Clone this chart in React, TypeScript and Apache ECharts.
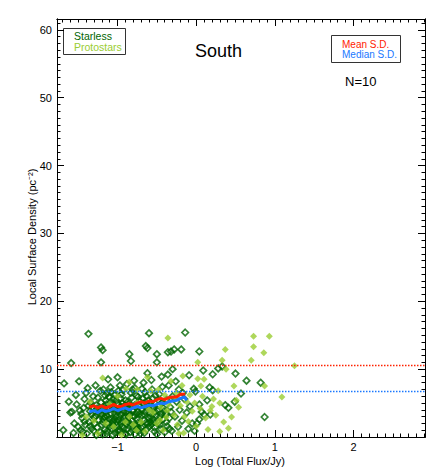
import React, { useEffect, useRef } from "react";
import * as echarts from "echarts";

const X_MIN = -1.77;
const X_MAX = 2.91;
const Y_MIN = 0;
const Y_MAX = 61.6;
const xMajorTicks = [-1, 0, 1, 2];
const yMajorTicks = [10, 20, 30, 40, 50, 60];
const meanLevel = 10.55;
const medianLevel = 6.7;

const starless: [number, number][] = [
  [-1.69, 1.0], [-1.68, 7.9], [-1.6, 3.6], [-1.62, 5.2],
  [-1.59, 10.9], [-1.58, 3.7], [-1.55, 2.0], [-1.52, 4.8], [-1.5, 1.5], [-1.53, 6.2], [-1.56, 0.6],
  [-1.49, 8.2], [-1.47, 1.0], [-1.45, 2.8], [-1.43, 4.3], [-1.42, 5.6], [-1.41, 1.8], [-1.46, 3.4], [-1.44, 0.8], [-1.4, 6.5],
  [-1.37, 15.2], [-1.38, 7.2], [-1.36, 2.2], [-1.35, 3.8], [-1.34, 5.0], [-1.33, 1.2], [-1.32, 4.4], [-1.31, 6.0], [-1.39, 0.5], [-1.3, 2.9], [-1.35, 1.6],
  [-1.21, 13.2], [-1.19, 12.8], [-1.21, 11.0], [-1.28, 3.1], [-1.27, 4.7], [-1.26, 1.4], [-1.25, 5.8], [-1.24, 2.5], [-1.23, 3.9], [-1.22, 0.7], [-1.22, 6.8], [-1.29, 2.0], [-1.26, 4.2], [-1.2, 3.3], [-1.2, 1.8], [-1.28, 7.6],
  [-1.12, 8.5], [-1.18, 2.6], [-1.17, 4.5], [-1.16, 1.1], [-1.15, 5.4], [-1.14, 3.2], [-1.13, 6.4], [-1.12, 2.0], [-1.11, 4.0], [-1.19, 0.4], [-1.1, 1.5], [-1.18, 7.0], [-1.15, 3.7], [-1.13, 0.9], [-1.11, 5.9], [-1.16, 2.9], [-1.14, 4.8],
  [-1.0, 8.8], [-1.09, 3.5], [-1.08, 1.2], [-1.07, 5.1], [-1.06, 2.3], [-1.05, 4.3], [-1.04, 6.2], [-1.03, 0.6], [-1.02, 3.0], [-1.01, 1.8], [-1.09, 7.3], [-1.07, 2.7], [-1.05, 5.6], [-1.03, 4.0], [-1.01, 2.2], [-1.06, 0.3], [-1.04, 3.6], [-1.0, 4.9], [-1.08, 6.6],
  [-0.99, 2.5], [-0.98, 4.1], [-0.97, 1.0], [-0.96, 5.7], [-0.95, 3.3], [-0.94, 1.6], [-0.93, 6.9], [-0.92, 2.8], [-0.91, 4.6], [-0.9, 0.5], [-0.99, 3.8], [-0.97, 7.6], [-0.96, 2.0], [-0.94, 5.0], [-0.92, 1.3], [-0.91, 3.1], [-0.98, 0.8], [-0.95, 6.3], [-0.93, 4.4],
  [-0.85, 12.2], [-0.83, 11.2], [-0.89, 3.6], [-0.88, 1.9], [-0.87, 5.2], [-0.86, 2.9], [-0.85, 4.2], [-0.84, 0.7], [-0.83, 6.5], [-0.82, 2.4], [-0.81, 3.9], [-0.8, 1.4], [-0.88, 7.8], [-0.86, 4.8], [-0.84, 3.3], [-0.82, 5.8], [-0.81, 1.0], [-0.87, 2.2], [-0.89, 0.4],
  [-0.79, 3.0], [-0.78, 4.7], [-0.77, 1.7], [-0.76, 6.1], [-0.75, 2.6], [-0.74, 3.8], [-0.73, 0.9], [-0.72, 5.3], [-0.71, 2.0], [-0.7, 4.1], [-0.78, 7.2], [-0.76, 1.2], [-0.74, 5.9], [-0.72, 3.4], [-0.79, 8.3], [-0.71, 0.5], [-0.77, 4.4],
  [-0.64, 13.4], [-0.62, 13.1], [-0.62, 9.4], [-0.69, 3.2], [-0.68, 1.6], [-0.67, 4.9], [-0.66, 2.5], [-0.65, 6.6], [-0.64, 3.7], [-0.63, 1.1], [-0.61, 5.4], [-0.6, 2.8], [-0.69, 7.1], [-0.66, 0.6], [-0.63, 4.3], [-0.61, 2.0], [-0.67, 8.0],
  [-0.6, 15.3], [-0.5, 12.2], [-0.5, 11.0], [-0.59, 3.5], [-0.58, 5.1], [-0.57, 1.8], [-0.56, 7.0], [-0.55, 2.7], [-0.54, 4.2], [-0.53, 0.8], [-0.52, 6.1], [-0.51, 3.1], [-0.58, 2.2], [-0.55, 5.7], [-0.53, 1.4], [-0.57, 8.4],
  [-0.49, 4.0], [-0.48, 2.1], [-0.47, 6.3], [-0.46, 3.0], [-0.45, 1.2], [-0.44, 5.0], [-0.43, 7.4], [-0.42, 2.6], [-0.41, 3.8], [-0.4, 0.7], [-0.47, 4.6], [-0.44, 8.9],
  [-0.36, 12.5], [-0.32, 12.6], [-0.3, 10.0], [-0.39, 3.4], [-0.38, 5.5], [-0.37, 1.6], [-0.35, 7.6], [-0.34, 2.8], [-0.33, 4.4], [-0.31, 0.9], [-0.3, 6.0], [-0.36, 9.2],
  [-0.28, 12.9], [-0.19, 12.9], [-0.27, 3.0], [-0.25, 5.2], [-0.23, 1.5], [-0.22, 7.0], [-0.21, 4.0], [-0.26, 8.2],
  [-0.14, 15.4], [-0.09, 9.1], [-0.18, 2.4], [-0.15, 5.6], [-0.12, 3.6], [-0.1, 1.2], [-0.17, 6.5],
  [-0.08, 4.5], [-0.05, 2.0], [-0.03, 7.1], [-0.01, 6.7], [-0.02, 0.9],
  [0.04, 12.6], [0.09, 9.8], [0.04, 4.8], [0.07, 3.7], [0.01, 2.0], [0.04, 2.6], [0.1, 3.3],
  [0.14, 5.4], [0.18, 3.3], [0.17, 7.3], [0.21, 6.9], [0.21, 9.25], [0.28, 10.1], [0.33, 10.4],
  [0.37, 4.7], [0.41, 4.3], [0.49, 5.2], [0.5, 9.35], [0.57, 6.4], [0.64, 8.3], [0.82, 8.0], [0.87, 2.95],
  [-1.27, 0.3], [-1.24, 3.5], [-1.21, 5.1], [-1.19, 2.2], [-1.17, 3.0], [-1.14, 0.5], [-1.12, 4.4], [-1.1, 2.6],
  [-1.08, 4.7], [-1.06, 1.7], [-1.04, 2.6], [-1.02, 5.3], [-1.0, 0.9], [-0.98, 3.0], [-0.96, 4.5], [-0.94, 2.3],
  [-0.92, 3.7], [-0.9, 5.4], [-0.88, 1.1], [-0.86, 3.7], [-0.84, 2.0], [-0.82, 4.6], [-0.8, 3.2], [-0.78, 0.4],
  [-0.76, 3.4], [-0.74, 2.1], [-0.72, 4.6], [-0.7, 1.4], [-0.68, 5.7], [-0.66, 3.3], [-0.64, 2.1], [-0.62, 4.8],
  [-0.6, 1.5], [-0.58, 3.0], [-0.56, 4.5], [-0.54, 2.2], [-0.52, 3.7], [-0.5, 0.4], [-0.48, 5.4], [-0.46, 1.8],
  [-0.44, 3.4], [-0.42, 4.3], [-0.38, 2.2], [-0.34, 1.2], [-0.32, 3.7], [-1.33, 3.3], [-1.37, 4.6], [-1.42, 2.3],
  [-1.48, 3.9], [-1.3, 0.9], [-1.16, 6.1], [-0.99, 6.8], [-0.81, 7.0], [-0.63, 6.0],
];

const protostars: [number, number][] = [
  [-0.36, 14.6], [-1.19, 8.7], [0.73, 14.85], [0.93, 14.85], [0.73, 13.3], [0.86, 12.4], [0.37, 12.9],
  [0.33, 11.3], [0.7, 11.3], [0.02, 11.0], [0.38, 10.0], [-0.17, 9.0], [0.02, 8.6], [0.1, 8.5],
  [0.87, 7.5], [0.48, 7.5], [0.28, 6.8], [1.09, 5.9], [0.3, 5.0], [0.51, 5.4], [0.54, 4.4], [0.45, 2.95],
  [0.18, 3.9], [0.41, 1.3], [-0.16, 0.6], [-1.45, 0.25], [1.25, 10.5],
  [-1.4, 3.0], [-1.3, 2.4], [-1.25, 0.5], [-1.1, 4.8], [-1.05, 1.5], [-0.95, 0.3], [-0.9, 2.2],
  [-0.85, 3.0], [-0.8, 1.8], [-0.75, 5.0], [-0.7, 2.2], [-0.65, 0.8], [-0.6, 4.0], [-0.58, 6.8],
  [-0.55, 3.6], [-0.5, 2.0], [-0.48, 7.0], [-0.45, 4.4], [-0.42, 1.0], [-0.4, 6.2], [-0.38, 2.9],
  [-0.35, 4.8], [-0.32, 8.2], [-0.28, 3.2], [-0.25, 6.5], [-0.24, 1.8], [-0.2, 4.6], [-0.18, 7.6],
  [-0.15, 3.0], [-0.12, 5.2], [-0.1, 2.3], [-0.08, 6.2], [-0.05, 3.8], [-0.02, 5.0], [0.0, 1.6],
  [0.05, 4.2], [0.08, 6.0], [0.12, 2.8], [0.15, 1.1], [0.2, 4.5], [0.25, 3.2], [0.3, 0.8],
  [0.35, 2.2], [0.22, 5.6], [0.06, 7.5], [-0.22, 0.5], [-0.62, 8.8], [-0.75, 7.0], [-1.0, 6.0],
  [-1.15, 2.0], [-1.35, 5.2], [-0.76, 1.0], [-0.46, 2.5], [-0.37, 3.9], [-0.25, 5.7], [-0.89, 7.1], [-0.85, 8.1],
];

const meanSD: [number, number][] = [
  [-1.36, 4.4], [-1.3, 4.6], [-1.25, 4.3], [-1.2, 4.6], [-1.15, 4.3], [-1.1, 4.5], [-1.05, 4.8],
  [-1.0, 4.5], [-0.95, 4.5], [-0.9, 4.8], [-0.85, 4.9], [-0.8, 4.7], [-0.75, 5.0], [-0.7, 5.2],
  [-0.65, 5.0], [-0.6, 5.3], [-0.55, 5.2], [-0.5, 5.5], [-0.45, 5.7], [-0.4, 5.5], [-0.35, 5.8],
  [-0.3, 5.9], [-0.25, 5.9], [-0.2, 6.3], [-0.14, 6.3],
];

const medianSD: [number, number][] = [
  [-1.36, 3.7], [-1.3, 3.9], [-1.25, 3.6], [-1.2, 4.0], [-1.15, 3.8], [-1.1, 3.9], [-1.05, 4.2],
  [-1.0, 3.9], [-0.95, 4.1], [-0.9, 4.3], [-0.85, 4.0], [-0.8, 4.3], [-0.75, 4.5], [-0.7, 4.3],
  [-0.65, 4.5], [-0.6, 4.7], [-0.55, 4.6], [-0.5, 4.8], [-0.45, 5.0], [-0.4, 4.9], [-0.35, 5.2],
  [-0.3, 5.3], [-0.25, 5.4], [-0.2, 5.7], [-0.15, 5.9], [-0.12, 5.4],
];

const FONT = "'Liberation Sans', Arial, sans-serif";
const DARK_GREEN = "#006400";
const YELLOW_GREEN = "#9acd32";
const RED = "#ff2200";
const BLUE = "#1a78ff";

function range(a: number, b: number, step: number): number[] {
  const out: number[] = [];
  const n = Math.round((b - a) / step);
  for (let i = 0; i <= n; i++) out.push(Math.round((a + i * step) * 1000) / 1000);
  return out;
}
const xMinorTicks = range(-1.7, 2.9, 0.1);
const yMinorTicks = range(1, 61, 1);

function fmt(v: number): string {
  return v < 0 ? "\u2212" + Math.abs(v) : String(v);
}

function xAx(position: string, ticks: number[], len: number, labels: boolean) {
  return {
    type: "value",
    position,
    min: X_MIN,
    max: X_MAX,
    splitLine: { show: false },
    axisLine: { show: true, onZero: false, lineStyle: { color: "#000", width: 1 } },
    axisTick: { show: true, inside: true, length: len, customValues: ticks, lineStyle: { color: "#000", width: 1 } },
    axisLabel: labels
      ? { show: true, customValues: xMajorTicks, formatter: fmt, fontSize: 11, color: "#000", margin: 4, fontFamily: FONT }
      : { show: false },
  };
}

function yAx(position: string, ticks: number[], len: number, labels: boolean) {
  return {
    type: "value",
    position,
    min: Y_MIN,
    max: Y_MAX,
    splitLine: { show: false },
    axisLine: { show: true, onZero: false, lineStyle: { color: "#000", width: 1 } },
    axisTick: { show: true, inside: true, length: len, customValues: ticks, lineStyle: { color: "#000", width: 1 } },
    axisLabel: labels
      ? { show: true, customValues: yMajorTicks, formatter: fmt, fontSize: 11, color: "#000", margin: 5, fontFamily: FONT }
      : { show: false },
  };
}

export default function App() {
  const ref = useRef<HTMLDivElement>(null);
  useEffect(() => {
    if (!ref.current) return;
    const chart = echarts.init(ref.current, undefined, { renderer: "svg" });
    chart.setOption({
      animation: false,
      backgroundColor: "#fff",
      grid: { left: 57, right: 18, top: 19, bottom: 36, containLabel: false },
      xAxis: [
        xAx("bottom", xMajorTicks, 7, true),
        xAx("bottom", xMinorTicks, 3.5, false),
        xAx("top", xMajorTicks, 7, false),
        xAx("top", xMinorTicks, 3.5, false),
      ],
      yAxis: [
        yAx("left", yMajorTicks, 7, true),
        yAx("left", yMinorTicks, 3.5, false),
        yAx("right", yMajorTicks, 7, false),
        yAx("right", yMinorTicks, 3.5, false),
      ],
      series: [
        {
          type: "line",
          data: [[X_MIN, meanLevel], [X_MAX, meanLevel]],
          symbol: "none",
          lineStyle: { color: RED, width: 1.5, type: "dotted" },
          silent: true,
        },
        {
          type: "line",
          data: [[X_MIN, medianLevel], [X_MAX, medianLevel]],
          symbol: "none",
          lineStyle: { color: BLUE, width: 1.5, type: "dotted" },
          silent: true,
        },
        {
          type: "scatter",
          name: "Starless",
          data: starless,
          symbol: "diamond",
          symbolSize: 6.5,
          itemStyle: { color: "rgba(0,0,0,0)", borderColor: DARK_GREEN, borderWidth: 1.7 },
          silent: true,
        },
        {
          type: "scatter",
          name: "Protostars",
          data: protostars,
          symbol: "diamond",
          symbolSize: 7,
          itemStyle: { color: YELLOW_GREEN },
          silent: true,
        },
        {
          type: "line",
          data: meanSD,
          symbol: "none",
          lineStyle: { color: RED, width: 3 },
          silent: true,
        },
        {
          type: "line",
          data: medianSD,
          symbol: "none",
          lineStyle: { color: BLUE, width: 3 },
          silent: true,
        },
      ],
      graphic: [
        { type: "text", left: 195, top: 42, style: { text: "South", font: `18px ${FONT}`, fill: "#000" } },
        { type: "rect", shape: { x: 63.5, y: 28.5, width: 62, height: 26 }, style: { fill: "#fff", stroke: "#333", lineWidth: 1 } },
        { type: "text", x: 74, y: 36, style: { text: "Starless", font: `10.5px ${FONT}`, fill: DARK_GREEN, verticalAlign: "middle" } },
        { type: "text", x: 74, y: 47, style: { text: "Protostars", font: `10.5px ${FONT}`, fill: YELLOW_GREEN, verticalAlign: "middle" } },
        { type: "rect", shape: { x: 331.5, y: 35.5, width: 69, height: 27 }, style: { fill: "#fff", stroke: "#333", lineWidth: 1 } },
        { type: "text", x: 342, y: 44, style: { text: "Mean S.D.", font: `10px ${FONT}`, fill: RED, verticalAlign: "middle" } },
        { type: "text", x: 342, y: 54, style: { text: "Median S.D.", font: `10px ${FONT}`, fill: BLUE, verticalAlign: "middle" } },
        { type: "text", x: 345, y: 81, style: { text: "N=10", font: `13px ${FONT}`, fill: "#000", verticalAlign: "middle" } },
        { type: "text", x: 240, y: 461, style: { text: "Log (Total Flux/Jy)", font: `11px ${FONT}`, fill: "#000", align: "center", verticalAlign: "middle" } },
        {
          type: "text",
          x: 32,
          y: 237,
          rotation: Math.PI / 2,
          style: { text: "Local Surface Density (pc\u207B\u00B2)", font: `11px ${FONT}`, fill: "#000", align: "center", verticalAlign: "middle" },
        },
      ],
    });
    return () => chart.dispose();
  }, []);
  return <div ref={ref} style={{ position: "fixed", left: 0, top: 0, width: 443, height: 473 }} />;
}
